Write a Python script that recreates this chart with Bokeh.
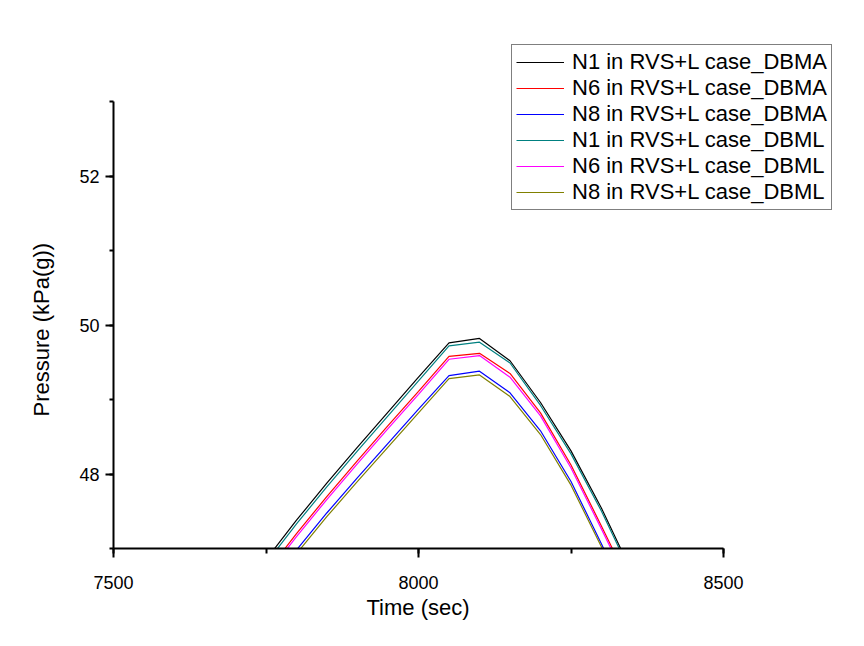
from bokeh.plotting import figure
from bokeh.models import Range1d, Legend, LegendItem, SingleIntervalTicker, Title
from bokeh.embed import file_html
from bokeh.resources import INLINE

time = [7700, 7750, 7800, 7850, 7900, 7950, 8000, 8050, 8100, 8150, 8200, 8250, 8300, 8350, 8400]

n1_dbma = [46.30, 46.85, 47.38, 47.88, 48.36, 48.83, 49.30, 49.76, 49.82, 49.52, 48.96, 48.31, 47.54, 46.68, 45.80]
n6_dbma = [46.12, 46.67, 47.20, 47.70, 48.18, 48.65, 49.11, 49.58, 49.62, 49.35, 48.82, 48.12, 47.30, 46.46, 45.60]
n8_dbma = [45.90, 46.45, 46.98, 47.48, 47.95, 48.41, 48.87, 49.32, 49.38, 49.09, 48.58, 47.90, 47.06, 46.20, 45.30]
n1_dbml = [46.25, 46.80, 47.33, 47.83, 48.31, 48.78, 49.25, 49.72, 49.77, 49.49, 48.92, 48.27, 47.50, 46.64, 45.76]
n6_dbml = [46.08, 46.63, 47.16, 47.66, 48.14, 48.61, 49.07, 49.54, 49.59, 49.30, 48.78, 48.08, 47.26, 46.42, 45.55]
n8_dbml = [45.85, 46.40, 46.93, 47.43, 47.90, 48.36, 48.82, 49.28, 49.33, 49.04, 48.53, 47.85, 47.02, 46.16, 45.26]

series_names = ["N1 in RVS+L case_DBMA", "N6 in RVS+L case_DBMA", "N8 in RVS+L case_DBMA",
                "N1 in RVS+L case_DBML", "N6 in RVS+L case_DBML", "N8 in RVS+L case_DBML"]
series_values = [n1_dbma, n6_dbma, n8_dbma, n1_dbml, n6_dbml, n8_dbml]
series_colors = ["#000000", "#FF0000", "#0000FF", "#008080", "#FF00FF", "#808000"]

x_label = "Time (sec)"
y_label = "Pressure (kPa(g))"

x_axis_min, x_axis_max = 7500, 8500
y_axis_min, y_axis_max = 47, 53

FONT = "Liberation Sans"

# frame extends past the drawn axes so the legend (which sticks out to the right/top) is not clipped
FRAME_W, FRAME_H = 737, 508
AXIS_W, AXIS_H = 610, 447
x_end = x_axis_min + (x_axis_max - x_axis_min) * FRAME_W / AXIS_W
y_end = y_axis_min + (y_axis_max - y_axis_min) * FRAME_H / AXIS_H

p = figure(frame_width=FRAME_W, frame_height=FRAME_H,
           min_border_left=113, min_border_top=40, min_border_right=14, min_border_bottom=98,
           x_range=Range1d(x_axis_min, x_end), y_range=Range1d(y_axis_min, y_end),
           output_backend="svg", toolbar_location=None)

p.outline_line_color = None
p.xgrid.visible = False
p.ygrid.visible = False
p.background_fill_color = "white"
p.border_fill_color = "white"

items = []
for name, vals, col in zip(series_names, series_values, series_colors):
    r = p.line(time, vals, line_color=col, line_width=1.2)
    items.append(LegendItem(label=name, renderers=[r]))

p.xaxis.ticker = SingleIntervalTicker(interval=500, num_minor_ticks=2)
p.yaxis.ticker = SingleIntervalTicker(interval=2, num_minor_ticks=2)
p.xaxis.bounds = (x_axis_min, x_axis_max)
p.yaxis.bounds = (y_axis_min, y_axis_max)

for ax in (p.xaxis[0], p.yaxis[0]):
    ax.axis_line_color = "black"
    ax.axis_line_width = 2
    ax.major_tick_line_color = "black"
    ax.major_tick_line_width = 2
    ax.minor_tick_line_color = "black"
    ax.minor_tick_line_width = 2
    ax.major_tick_in = 0
    ax.minor_tick_in = 0
    ax.major_label_text_font = FONT
    ax.major_label_text_font_size = "18px"
    ax.major_label_text_color = "black"

p.xaxis.major_tick_out = 9
p.xaxis.minor_tick_out = 5
p.yaxis.major_tick_out = 8
p.yaxis.minor_tick_out = 4
p.xaxis.major_label_standoff = 18
p.yaxis.major_label_standoff = 6

# axis titles, centred on the drawn axes (not on the enlarged frame)
x_title = Title(text=x_label, align="left", offset=253, standoff=2,
                text_font=FONT, text_font_size="22px", text_font_style="normal",
                text_color="black")
p.add_layout(x_title, "below")
y_title = Title(text=y_label, align="left", offset=132, standoff=46,
                text_font=FONT, text_font_size="22px", text_font_style="normal",
                text_color="black")
p.add_layout(y_title, "left")

legend = Legend(items=items, location=(398, 338),
                label_text_font=FONT, label_text_font_size="22px", label_text_color="black",
                label_height=26, glyph_height=26, glyph_width=48,
                label_standoff=8, spacing=0, padding=4, margin=0,
                border_line_color="black", border_line_width=1,
                background_fill_color="white", background_fill_alpha=1.0)
p.add_layout(legend, "center")

open("out.html", "w").write(file_html(p, INLINE))
